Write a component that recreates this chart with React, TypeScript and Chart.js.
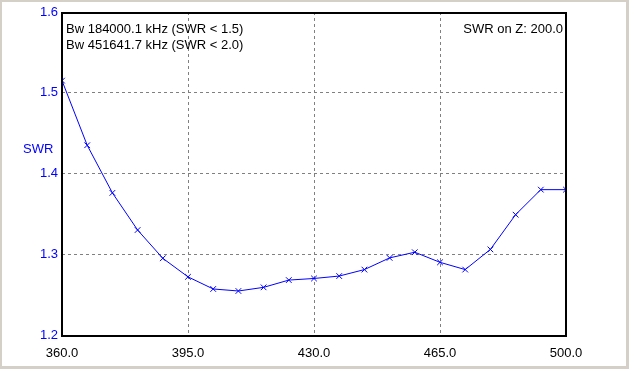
import React, { useEffect, useRef } from "react";
import { Chart, registerables } from "chart.js";

Chart.register(...registerables);

const freqs: number[] = [360, 367, 374, 381, 388, 395, 402, 409, 416, 423, 430, 437, 444, 451, 458, 465, 472, 479, 486, 493, 500];
const swr: number[] = [1.515, 1.435, 1.376, 1.33, 1.295, 1.272, 1.257, 1.2545, 1.259, 1.268, 1.27, 1.273, 1.281, 1.2955, 1.3025, 1.29, 1.281, 1.306, 1.349, 1.38, 1.38];
const infoLines: string[] = ["Bw 184000.1 kHz (SWR < 1.5)", "Bw 451641.7 kHz (SWR < 2.0)"];
const zText = "SWR on Z: 200.0";
const yTitle = "SWR";

const FONT = '13px "Liberation Sans", Arial, sans-serif';

const overlay = {
  id: "overlay",
  afterDraw(chart: any) {
    const { ctx, chartArea } = chart;
    ctx.save();
    ctx.strokeStyle = "#000";
    ctx.lineWidth = 2;
    ctx.setLineDash([]);
    ctx.strokeRect(chartArea.left, chartArea.top + 1, chartArea.right - chartArea.left, chartArea.bottom - chartArea.top);
    ctx.font = FONT;
    ctx.fillStyle = "#000";
    ctx.textBaseline = "alphabetic";
    ctx.textAlign = "left";
    ctx.fillText(infoLines[0], chartArea.left + 4, chartArea.top + 21);
    ctx.fillText(infoLines[1], chartArea.left + 4, chartArea.top + 37);
    ctx.textAlign = "right";
    ctx.fillText(zText, chartArea.right - 3, chartArea.top + 21);
    ctx.fillStyle = "#0000ff";
    ctx.textAlign = "left";
    ctx.textBaseline = "middle";
    ctx.fillText(yTitle, 23, 149);
    ctx.restore();
  },
};

export default function App() {
  const ref = useRef<HTMLCanvasElement>(null);
  useEffect(() => {
    if (!ref.current) return;
    const chart = new Chart(ref.current, {
      type: "line",
      data: {
        datasets: [
          {
            data: freqs.map((f, i) => ({ x: f, y: swr[i] })),
            borderColor: "#0000ff",
            backgroundColor: "#0000ff",
            borderWidth: 1,
            pointStyle: "crossRot",
            pointRadius: 4,
            pointBorderColor: "#0000ff",
            pointBorderWidth: 1,
            tension: 0,
            fill: false,
          },
        ],
      },
      options: {
        responsive: false,
        animation: false,
        layout: { padding: { left: 0, top: 12, right: 63, bottom: 0 } },
        plugins: { legend: { display: false }, tooltip: { enabled: false } },
        scales: {
          x: {
            type: "linear",
            min: 360,
            max: 500,
            afterFit: (s: any) => { s.height = 34; },
            ticks: {
              stepSize: 35,
              padding: 11,
              color: "#000",
              font: { family: '"Liberation Sans", Arial, sans-serif', size: 13 },
              maxRotation: 0,
              callback: (v: any) => Number(v).toFixed(1),
            },
            grid: { color: "#808080", drawTicks: false, lineWidth: 1 },
            border: { display: false, dash: [3, 3] },
          },
          y: {
            type: "linear",
            min: 1.2,
            max: 1.6,
            afterFit: (s: any) => { s.width = 62; },
            ticks: {
              stepSize: 0.1,
              padding: 4,
              color: "#0000ff",
              font: { family: '"Liberation Sans", Arial, sans-serif', size: 13 },
              callback: (v: any) => Number(v).toFixed(1),
            },
            grid: { color: "#808080", drawTicks: false, lineWidth: 1 },
            border: { display: false, dash: [3, 3] },
          },
        },
      },
      plugins: [overlay],
    });
    return () => chart.destroy();
  }, []);
  return (
    <div style={{ position: "fixed", left: 0, top: 0, width: 629, height: 369, background: "#d4d0c8" }}>
      <div style={{ position: "absolute", left: 2, top: 2, width: 624, height: 364, background: "#fff" }} />
      <canvas ref={ref} width={629} height={369} style={{ position: "absolute", left: 0, top: 0, width: 629, height: 369 }} />
    </div>
  );
}
